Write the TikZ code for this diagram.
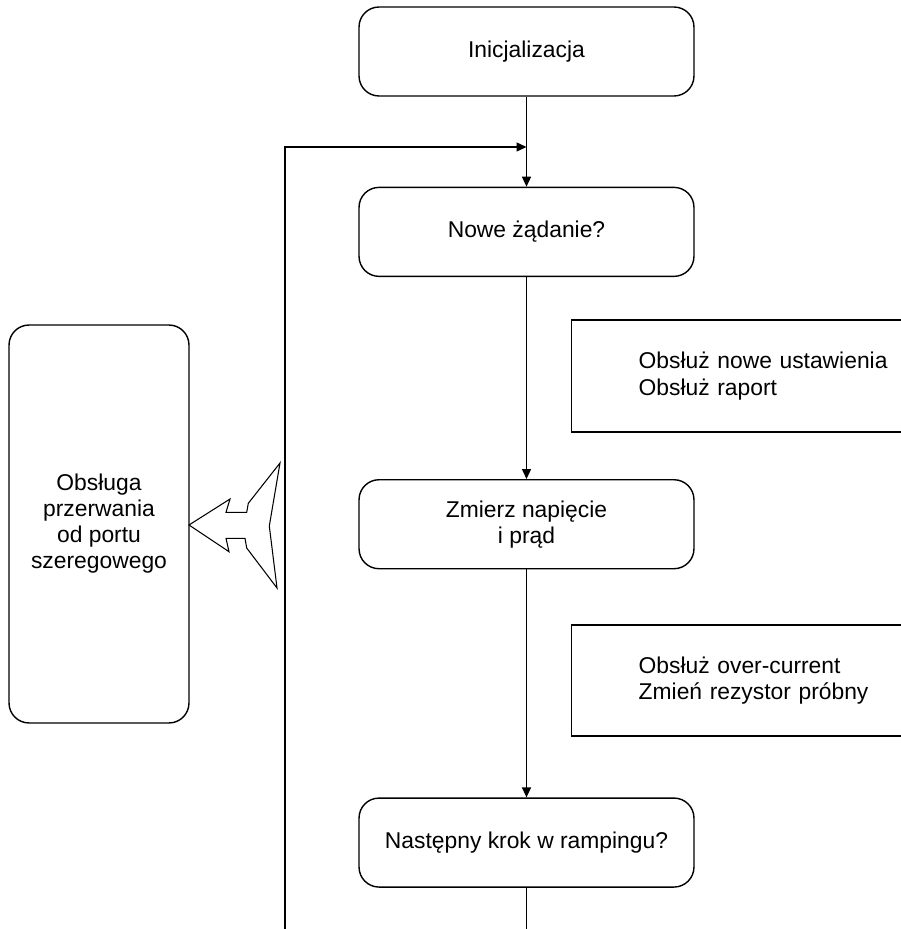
\documentclass[tikz,border=0pt]{standalone}
\usepackage{fontspec}
\setmainfont{Liberation Sans}
\usetikzlibrary{positioning, arrows.meta}

\begin{document}
\begin{tikzpicture}[
    x=0.02cm, y=-0.02cm,
    krok/.style={draw, rounded corners=0.4cm, minimum width=6.7cm, minimum height=1.78cm, align=center, font=\fontsize{13}{14.8}\selectfont, line width=0.8pt},
    opis/.style={draw, anchor=west, minimum height=2.24cm, text width=5.6cm, inner xsep=1.34cm, align=left, font=\fontsize{13}{15}\selectfont, line width=0.8pt},
    polaczenie/.style={draw, line width=0.8pt, -{Triangle[length=0.2cm, width=0.18cm]}}
]
\clip (0,0) rectangle (901,929);

\node[krok] (init) at (526.5,51.5) {Inicjalizacja};
\node[krok, below=1.8cm of init] (nowe) {Nowe żądanie?};
\node[krok, below=4.04cm of nowe] (pomiar) {Zmierz napięcie\\i prąd};
\node[krok, below=4.56cm of pomiar] (rampa) {Następny krok w rampingu?};
\node[krok, minimum width=3.6cm, minimum height=7.96cm] (isr) at (99,524) {Obsługa\\przerwania\\od portu\\szeregowego};
\node[opis] (ustawienia) at (571,376) {Obsłuż nowe ustawienia\\Obsłuż raport};
\node[opis, minimum height=2.22cm] (prad) at (571,680.5) {Obsłuż over-current\\Zmień rezystor próbny};

\coordinate (petla) at (285,929);
\coordinate (zbieg) at (526.5,147);
\coordinate (wyjscie) at (526.5,929);

\draw[polaczenie] (init) -- (nowe);
\draw[polaczenie] (petla) |- (zbieg);
\draw[polaczenie] (nowe) -- (pomiar);
\draw[polaczenie] (pomiar) -- (rampa);
\draw[line width=0.8pt] (rampa) -- (wyjscie);

% strzalka przerwania
\draw[line width=0.6pt, fill=white] (189,525) -- (230,499) -- (226,512.3) -- (246.7,512.3) -- (248.3,503.3)
    -- (280,463) -- (269.3,526) -- (277,588) -- (246.7,548) -- (245,538.3) -- (226,538.3) -- (229,551.7) -- cycle;
\end{tikzpicture}
\end{document}
